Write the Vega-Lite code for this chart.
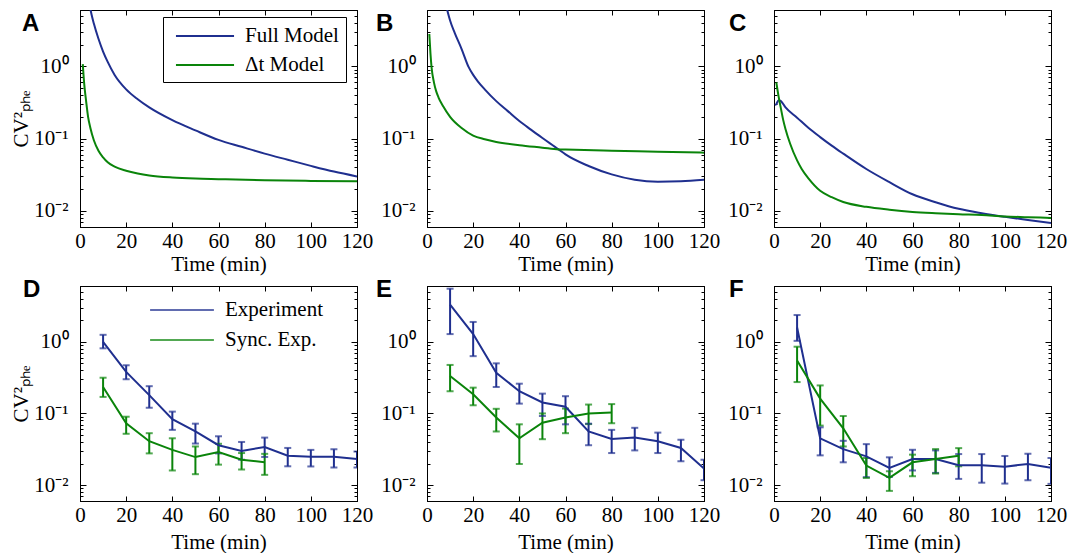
{
"$schema": "https://vega.github.io/schema/vega-lite/v6.json",
"padding": {"left": 10, "top": 4, "right": 0, "bottom": 0},
"bounds": "flush",
"columns": 3,
"spacing": {"row": 59, "column": 70},
"resolve": {"scale": {"color": "independent"}, "legend": {"color": "independent"}},
"config": {
  "view": {"stroke": "black", "strokeWidth": 1},
  "axis": {"grid": false, "domainColor": "black", "domainWidth": 1, "tickColor": "black", "tickWidth": 1, "labelFont": "Liberation Serif", "labelFontSize": 21, "labelColor": "black", "titleFont": "Liberation Serif", "titleFontSize": 21, "titleFontWeight": "normal", "titleColor": "black", "labelOverlap": false, "labelFlush": false},
  "legend": {"labelFont": "Liberation Serif", "labelFontSize": 21, "labelColor": "black"},
  "title": {"font": "Liberation Sans", "fontSize": 24, "fontWeight": "bold", "color": "black", "anchor": "start", "frame": "group", "offset": 0, "baseline": "alphabetic"}
},
"data": {"values": [
{"p":"A","s":"Full Model","t":4,"v":7.5},{"p":"A","s":"Full Model","t":5,"v":5.2},{"p":"A","s":"Full Model","t":6,"v":3.9},{"p":"A","s":"Full Model","t":8,"v":2.4},{"p":"A","s":"Full Model","t":10,"v":1.6},{"p":"A","s":"Full Model","t":12,"v":1.15},{"p":"A","s":"Full Model","t":15,"v":0.76},{"p":"A","s":"Full Model","t":20,"v":0.48},{"p":"A","s":"Full Model","t":25,"v":0.35},{"p":"A","s":"Full Model","t":30,"v":0.27},{"p":"A","s":"Full Model","t":40,"v":0.18},{"p":"A","s":"Full Model","t":50,"v":0.13},{"p":"A","s":"Full Model","t":60,"v":0.096},{"p":"A","s":"Full Model","t":70,"v":0.077},{"p":"A","s":"Full Model","t":80,"v":0.062},{"p":"A","s":"Full Model","t":90,"v":0.051},{"p":"A","s":"Full Model","t":100,"v":0.042},{"p":"A","s":"Full Model","t":110,"v":0.035},{"p":"A","s":"Full Model","t":120,"v":0.030},
{"p":"A","s":"Δt Model","t":1.2,"v":1.07},{"p":"A","s":"Δt Model","t":1.6,"v":0.7},{"p":"A","s":"Δt Model","t":2,"v":0.5},{"p":"A","s":"Δt Model","t":2.6,"v":0.34},{"p":"A","s":"Δt Model","t":3.5,"v":0.2},{"p":"A","s":"Δt Model","t":4.5,"v":0.14},{"p":"A","s":"Δt Model","t":6,"v":0.095},{"p":"A","s":"Δt Model","t":8,"v":0.068},{"p":"A","s":"Δt Model","t":10,"v":0.055},{"p":"A","s":"Δt Model","t":12,"v":0.047},{"p":"A","s":"Δt Model","t":15,"v":0.041},{"p":"A","s":"Δt Model","t":20,"v":0.036},{"p":"A","s":"Δt Model","t":25,"v":0.033},{"p":"A","s":"Δt Model","t":30,"v":0.031},{"p":"A","s":"Δt Model","t":40,"v":0.029},{"p":"A","s":"Δt Model","t":50,"v":0.028},{"p":"A","s":"Δt Model","t":60,"v":0.0275},{"p":"A","s":"Δt Model","t":80,"v":0.0266},{"p":"A","s":"Δt Model","t":100,"v":0.026},{"p":"A","s":"Δt Model","t":120,"v":0.0257},
{"p":"B","s":"Full Model","t":8.5,"v":6.5},{"p":"B","s":"Full Model","t":9,"v":5.6},{"p":"B","s":"Full Model","t":10,"v":4.3},{"p":"B","s":"Full Model","t":12,"v":2.9},{"p":"B","s":"Full Model","t":15,"v":1.73},{"p":"B","s":"Full Model","t":18,"v":0.98},{"p":"B","s":"Full Model","t":20,"v":0.76},{"p":"B","s":"Full Model","t":22,"v":0.62},{"p":"B","s":"Full Model","t":25,"v":0.48},{"p":"B","s":"Full Model","t":30,"v":0.33},{"p":"B","s":"Full Model","t":35,"v":0.24},{"p":"B","s":"Full Model","t":40,"v":0.175},{"p":"B","s":"Full Model","t":45,"v":0.133},{"p":"B","s":"Full Model","t":50,"v":0.102},{"p":"B","s":"Full Model","t":57,"v":0.071},{"p":"B","s":"Full Model","t":60,"v":0.0605},{"p":"B","s":"Full Model","t":70,"v":0.0418},{"p":"B","s":"Full Model","t":80,"v":0.032},{"p":"B","s":"Full Model","t":90,"v":0.027},{"p":"B","s":"Full Model","t":100,"v":0.0254},{"p":"B","s":"Full Model","t":110,"v":0.0257},{"p":"B","s":"Full Model","t":120,"v":0.027},
{"p":"B","s":"Δt Model","t":1,"v":2.8},{"p":"B","s":"Δt Model","t":1.5,"v":1.5},{"p":"B","s":"Δt Model","t":2,"v":0.95},{"p":"B","s":"Δt Model","t":3,"v":0.6},{"p":"B","s":"Δt Model","t":4,"v":0.45},{"p":"B","s":"Δt Model","t":5,"v":0.37},{"p":"B","s":"Δt Model","t":7,"v":0.28},{"p":"B","s":"Δt Model","t":10,"v":0.2},{"p":"B","s":"Δt Model","t":15,"v":0.14},{"p":"B","s":"Δt Model","t":20,"v":0.11},{"p":"B","s":"Δt Model","t":25,"v":0.098},{"p":"B","s":"Δt Model","t":30,"v":0.09},{"p":"B","s":"Δt Model","t":40,"v":0.081},{"p":"B","s":"Δt Model","t":50,"v":0.075},{"p":"B","s":"Δt Model","t":57,"v":0.071},{"p":"B","s":"Δt Model","t":60,"v":0.0705},{"p":"B","s":"Δt Model","t":80,"v":0.068},{"p":"B","s":"Δt Model","t":100,"v":0.066},{"p":"B","s":"Δt Model","t":120,"v":0.064},
{"p":"C","s":"Full Model","t":0.5,"v":0.29},{"p":"C","s":"Full Model","t":1,"v":0.3},{"p":"C","s":"Full Model","t":2,"v":0.34},{"p":"C","s":"Full Model","t":3,"v":0.33},{"p":"C","s":"Full Model","t":5,"v":0.27},{"p":"C","s":"Full Model","t":10,"v":0.195},{"p":"C","s":"Full Model","t":15,"v":0.14},{"p":"C","s":"Full Model","t":20,"v":0.105},{"p":"C","s":"Full Model","t":25,"v":0.08},{"p":"C","s":"Full Model","t":30,"v":0.062},{"p":"C","s":"Full Model","t":40,"v":0.038},{"p":"C","s":"Full Model","t":50,"v":0.025},{"p":"C","s":"Full Model","t":60,"v":0.017},{"p":"C","s":"Full Model","t":70,"v":0.0132},{"p":"C","s":"Full Model","t":80,"v":0.0107},{"p":"C","s":"Full Model","t":90,"v":0.0093},{"p":"C","s":"Full Model","t":100,"v":0.0083},{"p":"C","s":"Full Model","t":110,"v":0.0075},{"p":"C","s":"Full Model","t":120,"v":0.0068},
{"p":"C","s":"Δt Model","t":1,"v":0.6},{"p":"C","s":"Δt Model","t":2,"v":0.38},{"p":"C","s":"Δt Model","t":3,"v":0.26},{"p":"C","s":"Δt Model","t":4,"v":0.18},{"p":"C","s":"Δt Model","t":5,"v":0.135},{"p":"C","s":"Δt Model","t":7,"v":0.085},{"p":"C","s":"Δt Model","t":10,"v":0.05},{"p":"C","s":"Δt Model","t":12,"v":0.038},{"p":"C","s":"Δt Model","t":15,"v":0.028},{"p":"C","s":"Δt Model","t":20,"v":0.019},{"p":"C","s":"Δt Model","t":25,"v":0.0155},{"p":"C","s":"Δt Model","t":30,"v":0.0133},{"p":"C","s":"Δt Model","t":40,"v":0.0114},{"p":"C","s":"Δt Model","t":50,"v":0.0104},{"p":"C","s":"Δt Model","t":60,"v":0.0097},{"p":"C","s":"Δt Model","t":70,"v":0.0093},{"p":"C","s":"Δt Model","t":80,"v":0.009},{"p":"C","s":"Δt Model","t":90,"v":0.0088},{"p":"C","s":"Δt Model","t":100,"v":0.0084},{"p":"C","s":"Δt Model","t":110,"v":0.0082},{"p":"C","s":"Δt Model","t":120,"v":0.008},
{"p":"D","s":"Experiment","t":10,"v":1.0,"lo":0.81,"hi":1.25},{"p":"D","s":"Experiment","t":20,"v":0.38,"lo":0.30,"hi":0.47},{"p":"D","s":"Experiment","t":30,"v":0.18,"lo":0.12,"hi":0.24},{"p":"D","s":"Experiment","t":40,"v":0.083,"lo":0.059,"hi":0.106},{"p":"D","s":"Experiment","t":50,"v":0.056,"lo":0.038,"hi":0.072},{"p":"D","s":"Experiment","t":60,"v":0.036,"lo":0.0277,"hi":0.048},{"p":"D","s":"Experiment","t":70,"v":0.030,"lo":0.0226,"hi":0.040},{"p":"D","s":"Experiment","t":80,"v":0.034,"lo":0.0247,"hi":0.046},{"p":"D","s":"Experiment","t":90,"v":0.0257,"lo":0.0183,"hi":0.033},{"p":"D","s":"Experiment","t":100,"v":0.0249,"lo":0.0182,"hi":0.031},{"p":"D","s":"Experiment","t":110,"v":0.0249,"lo":0.0176,"hi":0.0316},{"p":"D","s":"Experiment","t":120,"v":0.0231,"lo":0.0176,"hi":0.0294},
{"p":"D","s":"Sync. Exp.","t":10,"v":0.234,"lo":0.17,"hi":0.315},{"p":"D","s":"Sync. Exp.","t":20,"v":0.073,"lo":0.052,"hi":0.090},{"p":"D","s":"Sync. Exp.","t":30,"v":0.041,"lo":0.0277,"hi":0.053},{"p":"D","s":"Sync. Exp.","t":40,"v":0.031,"lo":0.016,"hi":0.045},{"p":"D","s":"Sync. Exp.","t":50,"v":0.0246,"lo":0.0142,"hi":0.0346},{"p":"D","s":"Sync. Exp.","t":60,"v":0.0289,"lo":0.0193,"hi":0.0377},{"p":"D","s":"Sync. Exp.","t":70,"v":0.0226,"lo":0.0165,"hi":0.028},{"p":"D","s":"Sync. Exp.","t":80,"v":0.0208,"lo":0.0139,"hi":0.0273},
{"p":"E","s":"Experiment","t":10,"v":3.3,"lo":1.28,"hi":5.5},{"p":"E","s":"Experiment","t":20,"v":1.28,"lo":0.63,"hi":1.89},{"p":"E","s":"Experiment","t":30,"v":0.37,"lo":0.234,"hi":0.50},{"p":"E","s":"Experiment","t":40,"v":0.204,"lo":0.137,"hi":0.26},{"p":"E","s":"Experiment","t":50,"v":0.142,"lo":0.092,"hi":0.189},{"p":"E","s":"Experiment","t":60,"v":0.124,"lo":0.0705,"hi":0.174},{"p":"E","s":"Experiment","t":70,"v":0.056,"lo":0.036,"hi":0.072},{"p":"E","s":"Experiment","t":80,"v":0.044,"lo":0.028,"hi":0.059},{"p":"E","s":"Experiment","t":90,"v":0.046,"lo":0.0305,"hi":0.063},{"p":"E","s":"Experiment","t":100,"v":0.041,"lo":0.028,"hi":0.054},{"p":"E","s":"Experiment","t":110,"v":0.033,"lo":0.0215,"hi":0.043},{"p":"E","s":"Experiment","t":120,"v":0.017,"lo":0.0117,"hi":0.0226},
{"p":"E","s":"Sync. Exp.","t":10,"v":0.332,"lo":0.204,"hi":0.475},{"p":"E","s":"Sync. Exp.","t":20,"v":0.185,"lo":0.13,"hi":0.229},{"p":"E","s":"Sync. Exp.","t":30,"v":0.088,"lo":0.056,"hi":0.116},{"p":"E","s":"Sync. Exp.","t":40,"v":0.045,"lo":0.0197,"hi":0.0705},{"p":"E","s":"Sync. Exp.","t":50,"v":0.0743,"lo":0.0437,"hi":0.1},{"p":"E","s":"Sync. Exp.","t":60,"v":0.088,"lo":0.053,"hi":0.117},{"p":"E","s":"Sync. Exp.","t":70,"v":0.1,"lo":0.071,"hi":0.133},{"p":"E","s":"Sync. Exp.","t":80,"v":0.103,"lo":0.073,"hi":0.135},
{"p":"F","s":"Experiment","t":10,"v":1.58,"lo":1.03,"hi":2.36},{"p":"F","s":"Experiment","t":20,"v":0.045,"lo":0.026,"hi":0.064},{"p":"F","s":"Experiment","t":30,"v":0.0318,"lo":0.0208,"hi":0.0415},{"p":"F","s":"Experiment","t":40,"v":0.0252,"lo":0.0129,"hi":0.0373},{"p":"F","s":"Experiment","t":50,"v":0.0174,"lo":0.013,"hi":0.0244},{"p":"F","s":"Experiment","t":60,"v":0.0231,"lo":0.016,"hi":0.0311},{"p":"F","s":"Experiment","t":70,"v":0.0231,"lo":0.0148,"hi":0.0305},{"p":"F","s":"Experiment","t":80,"v":0.0189,"lo":0.0122,"hi":0.0271},{"p":"F","s":"Experiment","t":90,"v":0.0189,"lo":0.0108,"hi":0.0271},{"p":"F","s":"Experiment","t":100,"v":0.0181,"lo":0.0105,"hi":0.0255},{"p":"F","s":"Experiment","t":110,"v":0.0197,"lo":0.0117,"hi":0.0274},{"p":"F","s":"Experiment","t":120,"v":0.0174,"lo":0.0104,"hi":0.0239},
{"p":"F","s":"Sync. Exp.","t":10,"v":0.546,"lo":0.274,"hi":0.853},{"p":"F","s":"Sync. Exp.","t":20,"v":0.161,"lo":0.0676,"hi":0.246},{"p":"F","s":"Sync. Exp.","t":30,"v":0.062,"lo":0.0346,"hi":0.092},{"p":"F","s":"Sync. Exp.","t":40,"v":0.0187,"lo":0.0126,"hi":0.0239},{"p":"F","s":"Sync. Exp.","t":50,"v":0.0126,"lo":0.0083,"hi":0.0156},{"p":"F","s":"Sync. Exp.","t":60,"v":0.0208,"lo":0.0133,"hi":0.0266},{"p":"F","s":"Sync. Exp.","t":70,"v":0.0231,"lo":0.0145,"hi":0.0318},{"p":"F","s":"Sync. Exp.","t":80,"v":0.0257,"lo":0.0183,"hi":0.0328}
]},
"concat": [
 {"width": 277, "height": 217, "title": {"text": "A", "dx": -58, "dy": 35},
  "transform": [{"filter": "datum.p == 'A'"}],
  "layer": [
   {"mark": {"type": "line", "strokeWidth": 2, "clip": true, "interpolate": "monotone"},
    "encoding": {
     "x": {"field": "t", "type": "quantitative", "scale": {"domain": [0, 120], "nice": false, "zero": false}, "axis": {"values": [0,20,40,60,80,100,120], "title": "Time (min)", "tickSize": -5, "labelPadding": 8, "titlePadding": 2}},
     "y": {"field": "v", "type": "quantitative", "scale": {"type": "log", "domain": [0.006, 6], "nice": false}, "axis": {"values": [0.006,0.007,0.008,0.009,0.01,0.02,0.03,0.04,0.05,0.06,0.07,0.08,0.09,0.1,0.2,0.3,0.4,0.5,0.6,0.7,0.8,0.9,1,2,3,4,5], "labelExpr": "datum.value == 1 ? '10⁰' : (datum.value == 0.1 ? '10⁻¹' : (datum.value == 0.01 ? '10⁻²' : ''))", "tickSize": {"condition": {"test": "datum.value == 1 || datum.value == 0.1 || datum.value == 0.01", "value": -6}, "value": -3}, "labelPadding": 18, "title": "CV²ₚₕₑ", "titlePadding": 2}},
     "color": {"field": "s", "type": "nominal", "scale": {"domain": ["Full Model", "Δt Model"], "range": ["#1f2f8f", "#0a840a"]}, "legend": {"title": null, "orient": "none", "legendX": 83, "legendY": 7, "strokeColor": "black", "fillColor": "white", "padding": 7, "symbolType": "M-2.64,0H2.64", "symbolSize": 484, "symbolStrokeWidth": 2, "symbolOffset": 23, "labelOffset": 28, "rowPadding": 7}}
    }},
   {"transform": [{"filter": "datum.v <= 5"}],
    "mark": {"type": "point", "opacity": 0, "size": 4, "clip": true},
    "encoding": {
     "x": {"field": "t", "type": "quantitative", "scale": {"domain": [0, 120], "nice": false, "zero": false}, "axis": {"orient": "top", "values": [0,20,40,60,80,100,120], "labels": false, "title": null, "tickSize": -5}},
     "y": {"field": "v", "type": "quantitative", "scale": {"type": "log", "domain": [0.006, 6], "nice": false}, "axis": {"orient": "right", "values": [0.006,0.007,0.008,0.009,0.01,0.02,0.03,0.04,0.05,0.06,0.07,0.08,0.09,0.1,0.2,0.3,0.4,0.5,0.6,0.7,0.8,0.9,1,2,3,4,5], "labels": false, "title": null, "tickSize": {"condition": {"test": "datum.value == 1 || datum.value == 0.1 || datum.value == 0.01", "value": -6}, "value": -3}}}
    }}
  ],
  "resolve": {"axis": {"x": "independent", "y": "independent"}}
 },
 {"width": 277, "height": 217, "title": {"text": "B", "dx": -51, "dy": 35},
  "transform": [{"filter": "datum.p == 'B'"}],
  "layer": [
   {"mark": {"type": "line", "strokeWidth": 2, "clip": true, "interpolate": "monotone"},
    "encoding": {
     "x": {"field": "t", "type": "quantitative", "scale": {"domain": [0, 120], "nice": false, "zero": false}, "axis": {"values": [0,20,40,60,80,100,120], "title": "Time (min)", "tickSize": -5, "labelPadding": 8, "titlePadding": 2}},
     "y": {"field": "v", "type": "quantitative", "scale": {"type": "log", "domain": [0.006, 6], "nice": false}, "axis": {"values": [0.006,0.007,0.008,0.009,0.01,0.02,0.03,0.04,0.05,0.06,0.07,0.08,0.09,0.1,0.2,0.3,0.4,0.5,0.6,0.7,0.8,0.9,1,2,3,4,5], "labelExpr": "datum.value == 1 ? '10⁰' : (datum.value == 0.1 ? '10⁻¹' : (datum.value == 0.01 ? '10⁻²' : ''))", "tickSize": {"condition": {"test": "datum.value == 1 || datum.value == 0.1 || datum.value == 0.01", "value": -6}, "value": -3}, "labelPadding": 18, "title": null}},
     "color": {"field": "s", "type": "nominal", "scale": {"domain": ["Full Model", "Δt Model"], "range": ["#1f2f8f", "#0a840a"]}, "legend": null}
    }},
   {"transform": [{"filter": "datum.v <= 5"}],
    "mark": {"type": "point", "opacity": 0, "size": 4, "clip": true},
    "encoding": {
     "x": {"field": "t", "type": "quantitative", "scale": {"domain": [0, 120], "nice": false, "zero": false}, "axis": {"orient": "top", "values": [0,20,40,60,80,100,120], "labels": false, "title": null, "tickSize": -5}},
     "y": {"field": "v", "type": "quantitative", "scale": {"type": "log", "domain": [0.006, 6], "nice": false}, "axis": {"orient": "right", "values": [0.006,0.007,0.008,0.009,0.01,0.02,0.03,0.04,0.05,0.06,0.07,0.08,0.09,0.1,0.2,0.3,0.4,0.5,0.6,0.7,0.8,0.9,1,2,3,4,5], "labels": false, "title": null, "tickSize": {"condition": {"test": "datum.value == 1 || datum.value == 0.1 || datum.value == 0.01", "value": -6}, "value": -3}}}
    }}
  ],
  "resolve": {"axis": {"x": "independent", "y": "independent"}}
 },
 {"width": 277, "height": 217, "title": {"text": "C", "dx": -45, "dy": 35},
  "transform": [{"filter": "datum.p == 'C'"}],
  "layer": [
   {"mark": {"type": "line", "strokeWidth": 2, "clip": true, "interpolate": "monotone"},
    "encoding": {
     "x": {"field": "t", "type": "quantitative", "scale": {"domain": [0, 120], "nice": false, "zero": false}, "axis": {"values": [0,20,40,60,80,100,120], "title": "Time (min)", "tickSize": -5, "labelPadding": 8, "titlePadding": 2}},
     "y": {"field": "v", "type": "quantitative", "scale": {"type": "log", "domain": [0.006, 6], "nice": false}, "axis": {"values": [0.006,0.007,0.008,0.009,0.01,0.02,0.03,0.04,0.05,0.06,0.07,0.08,0.09,0.1,0.2,0.3,0.4,0.5,0.6,0.7,0.8,0.9,1,2,3,4,5], "labelExpr": "datum.value == 1 ? '10⁰' : (datum.value == 0.1 ? '10⁻¹' : (datum.value == 0.01 ? '10⁻²' : ''))", "tickSize": {"condition": {"test": "datum.value == 1 || datum.value == 0.1 || datum.value == 0.01", "value": -6}, "value": -3}, "labelPadding": 18, "title": null}},
     "color": {"field": "s", "type": "nominal", "scale": {"domain": ["Full Model", "Δt Model"], "range": ["#1f2f8f", "#0a840a"]}, "legend": null}
    }},
   {"transform": [{"filter": "datum.v <= 5"}],
    "mark": {"type": "point", "opacity": 0, "size": 4, "clip": true},
    "encoding": {
     "x": {"field": "t", "type": "quantitative", "scale": {"domain": [0, 120], "nice": false, "zero": false}, "axis": {"orient": "top", "values": [0,20,40,60,80,100,120], "labels": false, "title": null, "tickSize": -5}},
     "y": {"field": "v", "type": "quantitative", "scale": {"type": "log", "domain": [0.006, 6], "nice": false}, "axis": {"orient": "right", "values": [0.006,0.007,0.008,0.009,0.01,0.02,0.03,0.04,0.05,0.06,0.07,0.08,0.09,0.1,0.2,0.3,0.4,0.5,0.6,0.7,0.8,0.9,1,2,3,4,5], "labels": false, "title": null, "tickSize": {"condition": {"test": "datum.value == 1 || datum.value == 0.1 || datum.value == 0.01", "value": -6}, "value": -3}}}
    }}
  ],
  "resolve": {"axis": {"x": "independent", "y": "independent"}}
 },
 {"width": 277, "height": 215, "title": {"text": "D", "dx": -57, "dy": 25},
  "transform": [{"filter": "datum.p == 'D'"}],
  "layer": [
   {"mark": {"type": "rule", "strokeWidth": 2, "clip": true},
    "encoding": {
     "x": {"field": "t", "type": "quantitative", "scale": {"domain": [0, 120], "nice": false, "zero": false}, "axis": null},
     "y": {"field": "lo", "type": "quantitative", "scale": {"type": "log", "domain": [0.006, 6], "nice": false}, "axis": null},
     "y2": {"field": "hi"},
     "color": {"field": "s", "type": "nominal", "scale": {"domain": ["Experiment", "Sync. Exp."], "range": ["#1f2f8f", "#0a840a"]}, "legend": {"title": null, "orient": "none", "legendX": 62, "legendY": 5, "padding": 7, "symbolType": "M-2.9,0H2.9", "symbolSize": 484, "symbolStrokeWidth": 2, "symbolOffset": 21, "labelOffset": 31, "rowPadding": 8}}
    }},
   {"mark": {"type": "tick", "orient": "horizontal", "size": 7, "thickness": 2, "clip": true},
    "encoding": {
     "x": {"field": "t", "type": "quantitative", "scale": {"domain": [0, 120], "nice": false, "zero": false}, "axis": null},
     "y": {"field": "lo", "type": "quantitative", "scale": {"type": "log", "domain": [0.006, 6], "nice": false}, "axis": null},
     "color": {"field": "s", "type": "nominal", "scale": {"domain": ["Experiment", "Sync. Exp."], "range": ["#1f2f8f", "#0a840a"]}, "legend": {"title": null, "orient": "none", "legendX": 62, "legendY": 5, "padding": 7, "symbolType": "M-2.9,0H2.9", "symbolSize": 484, "symbolStrokeWidth": 2, "symbolOffset": 21, "labelOffset": 31, "rowPadding": 8}}
    }},
   {"mark": {"type": "tick", "orient": "horizontal", "size": 7, "thickness": 2, "clip": true},
    "encoding": {
     "x": {"field": "t", "type": "quantitative", "scale": {"domain": [0, 120], "nice": false, "zero": false}, "axis": null},
     "y": {"field": "hi", "type": "quantitative", "scale": {"type": "log", "domain": [0.006, 6], "nice": false}, "axis": null},
     "color": {"field": "s", "type": "nominal", "scale": {"domain": ["Experiment", "Sync. Exp."], "range": ["#1f2f8f", "#0a840a"]}, "legend": {"title": null, "orient": "none", "legendX": 62, "legendY": 5, "padding": 7, "symbolType": "M-2.9,0H2.9", "symbolSize": 484, "symbolStrokeWidth": 2, "symbolOffset": 21, "labelOffset": 31, "rowPadding": 8}}
    }},
   {"mark": {"type": "line", "strokeWidth": 2, "clip": true},
    "encoding": {
     "x": {"field": "t", "type": "quantitative", "scale": {"domain": [0, 120], "nice": false, "zero": false}, "axis": {"values": [0,20,40,60,80,100,120], "title": "Time (min)", "tickSize": -5, "labelPadding": 8, "titlePadding": 6}},
     "y": {"field": "v", "type": "quantitative", "scale": {"type": "log", "domain": [0.006, 6], "nice": false}, "axis": {"values": [0.006,0.007,0.008,0.009,0.01,0.02,0.03,0.04,0.05,0.06,0.07,0.08,0.09,0.1,0.2,0.3,0.4,0.5,0.6,0.7,0.8,0.9,1,2,3,4,5], "labelExpr": "datum.value == 1 ? '10⁰' : (datum.value == 0.1 ? '10⁻¹' : (datum.value == 0.01 ? '10⁻²' : ''))", "tickSize": {"condition": {"test": "datum.value == 1 || datum.value == 0.1 || datum.value == 0.01", "value": -6}, "value": -3}, "labelPadding": 18, "title": "CV²ₚₕₑ", "titlePadding": 2}},
     "color": {"field": "s", "type": "nominal", "scale": {"domain": ["Experiment", "Sync. Exp."], "range": ["#1f2f8f", "#0a840a"]}, "legend": {"title": null, "orient": "none", "legendX": 62, "legendY": 5, "padding": 7, "symbolType": "M-2.9,0H2.9", "symbolSize": 484, "symbolStrokeWidth": 2, "symbolOffset": 21, "labelOffset": 31, "rowPadding": 8}}
    }},
   {"transform": [{"filter": "datum.v <= 5"}],
    "mark": {"type": "point", "opacity": 0, "size": 4, "clip": true},
    "encoding": {
     "x": {"field": "t", "type": "quantitative", "scale": {"domain": [0, 120], "nice": false, "zero": false}, "axis": {"orient": "top", "values": [0,20,40,60,80,100,120], "labels": false, "title": null, "tickSize": -5}},
     "y": {"field": "v", "type": "quantitative", "scale": {"type": "log", "domain": [0.006, 6], "nice": false}, "axis": {"orient": "right", "values": [0.006,0.007,0.008,0.009,0.01,0.02,0.03,0.04,0.05,0.06,0.07,0.08,0.09,0.1,0.2,0.3,0.4,0.5,0.6,0.7,0.8,0.9,1,2,3,4,5], "labels": false, "title": null, "tickSize": {"condition": {"test": "datum.value == 1 || datum.value == 0.1 || datum.value == 0.01", "value": -6}, "value": -3}}}
    }}
  ],
  "resolve": {"axis": {"x": "independent", "y": "independent"}}
 },
 {"width": 277, "height": 215, "title": {"text": "E", "dx": -51, "dy": 25},
  "transform": [{"filter": "datum.p == 'E'"}],
  "layer": [
   {"mark": {"type": "rule", "strokeWidth": 2, "clip": true},
    "encoding": {
     "x": {"field": "t", "type": "quantitative", "scale": {"domain": [0, 120], "nice": false, "zero": false}, "axis": null},
     "y": {"field": "lo", "type": "quantitative", "scale": {"type": "log", "domain": [0.006, 6], "nice": false}, "axis": null},
     "y2": {"field": "hi"},
     "color": {"field": "s", "type": "nominal", "scale": {"domain": ["Experiment", "Sync. Exp."], "range": ["#1f2f8f", "#0a840a"]}, "legend": null}
    }},
   {"mark": {"type": "tick", "orient": "horizontal", "size": 7, "thickness": 2, "clip": true},
    "encoding": {
     "x": {"field": "t", "type": "quantitative", "scale": {"domain": [0, 120], "nice": false, "zero": false}, "axis": null},
     "y": {"field": "lo", "type": "quantitative", "scale": {"type": "log", "domain": [0.006, 6], "nice": false}, "axis": null},
     "color": {"field": "s", "type": "nominal", "scale": {"domain": ["Experiment", "Sync. Exp."], "range": ["#1f2f8f", "#0a840a"]}, "legend": null}
    }},
   {"mark": {"type": "tick", "orient": "horizontal", "size": 7, "thickness": 2, "clip": true},
    "encoding": {
     "x": {"field": "t", "type": "quantitative", "scale": {"domain": [0, 120], "nice": false, "zero": false}, "axis": null},
     "y": {"field": "hi", "type": "quantitative", "scale": {"type": "log", "domain": [0.006, 6], "nice": false}, "axis": null},
     "color": {"field": "s", "type": "nominal", "scale": {"domain": ["Experiment", "Sync. Exp."], "range": ["#1f2f8f", "#0a840a"]}, "legend": null}
    }},
   {"mark": {"type": "line", "strokeWidth": 2, "clip": true},
    "encoding": {
     "x": {"field": "t", "type": "quantitative", "scale": {"domain": [0, 120], "nice": false, "zero": false}, "axis": {"values": [0,20,40,60,80,100,120], "title": "Time (min)", "tickSize": -5, "labelPadding": 8, "titlePadding": 6}},
     "y": {"field": "v", "type": "quantitative", "scale": {"type": "log", "domain": [0.006, 6], "nice": false}, "axis": {"values": [0.006,0.007,0.008,0.009,0.01,0.02,0.03,0.04,0.05,0.06,0.07,0.08,0.09,0.1,0.2,0.3,0.4,0.5,0.6,0.7,0.8,0.9,1,2,3,4,5], "labelExpr": "datum.value == 1 ? '10⁰' : (datum.value == 0.1 ? '10⁻¹' : (datum.value == 0.01 ? '10⁻²' : ''))", "tickSize": {"condition": {"test": "datum.value == 1 || datum.value == 0.1 || datum.value == 0.01", "value": -6}, "value": -3}, "labelPadding": 18, "title": null}},
     "color": {"field": "s", "type": "nominal", "scale": {"domain": ["Experiment", "Sync. Exp."], "range": ["#1f2f8f", "#0a840a"]}, "legend": null}
    }},
   {"transform": [{"filter": "datum.v <= 5"}],
    "mark": {"type": "point", "opacity": 0, "size": 4, "clip": true},
    "encoding": {
     "x": {"field": "t", "type": "quantitative", "scale": {"domain": [0, 120], "nice": false, "zero": false}, "axis": {"orient": "top", "values": [0,20,40,60,80,100,120], "labels": false, "title": null, "tickSize": -5}},
     "y": {"field": "v", "type": "quantitative", "scale": {"type": "log", "domain": [0.006, 6], "nice": false}, "axis": {"orient": "right", "values": [0.006,0.007,0.008,0.009,0.01,0.02,0.03,0.04,0.05,0.06,0.07,0.08,0.09,0.1,0.2,0.3,0.4,0.5,0.6,0.7,0.8,0.9,1,2,3,4,5], "labels": false, "title": null, "tickSize": {"condition": {"test": "datum.value == 1 || datum.value == 0.1 || datum.value == 0.01", "value": -6}, "value": -3}}}
    }}
  ],
  "resolve": {"axis": {"x": "independent", "y": "independent"}}
 },
 {"width": 277, "height": 215, "title": {"text": "F", "dx": -45, "dy": 25},
  "transform": [{"filter": "datum.p == 'F'"}],
  "layer": [
   {"mark": {"type": "rule", "strokeWidth": 2, "clip": true},
    "encoding": {
     "x": {"field": "t", "type": "quantitative", "scale": {"domain": [0, 120], "nice": false, "zero": false}, "axis": null},
     "y": {"field": "lo", "type": "quantitative", "scale": {"type": "log", "domain": [0.006, 6], "nice": false}, "axis": null},
     "y2": {"field": "hi"},
     "color": {"field": "s", "type": "nominal", "scale": {"domain": ["Experiment", "Sync. Exp."], "range": ["#1f2f8f", "#0a840a"]}, "legend": null}
    }},
   {"mark": {"type": "tick", "orient": "horizontal", "size": 7, "thickness": 2, "clip": true},
    "encoding": {
     "x": {"field": "t", "type": "quantitative", "scale": {"domain": [0, 120], "nice": false, "zero": false}, "axis": null},
     "y": {"field": "lo", "type": "quantitative", "scale": {"type": "log", "domain": [0.006, 6], "nice": false}, "axis": null},
     "color": {"field": "s", "type": "nominal", "scale": {"domain": ["Experiment", "Sync. Exp."], "range": ["#1f2f8f", "#0a840a"]}, "legend": null}
    }},
   {"mark": {"type": "tick", "orient": "horizontal", "size": 7, "thickness": 2, "clip": true},
    "encoding": {
     "x": {"field": "t", "type": "quantitative", "scale": {"domain": [0, 120], "nice": false, "zero": false}, "axis": null},
     "y": {"field": "hi", "type": "quantitative", "scale": {"type": "log", "domain": [0.006, 6], "nice": false}, "axis": null},
     "color": {"field": "s", "type": "nominal", "scale": {"domain": ["Experiment", "Sync. Exp."], "range": ["#1f2f8f", "#0a840a"]}, "legend": null}
    }},
   {"mark": {"type": "line", "strokeWidth": 2, "clip": true},
    "encoding": {
     "x": {"field": "t", "type": "quantitative", "scale": {"domain": [0, 120], "nice": false, "zero": false}, "axis": {"values": [0,20,40,60,80,100,120], "title": "Time (min)", "tickSize": -5, "labelPadding": 8, "titlePadding": 6}},
     "y": {"field": "v", "type": "quantitative", "scale": {"type": "log", "domain": [0.006, 6], "nice": false}, "axis": {"values": [0.006,0.007,0.008,0.009,0.01,0.02,0.03,0.04,0.05,0.06,0.07,0.08,0.09,0.1,0.2,0.3,0.4,0.5,0.6,0.7,0.8,0.9,1,2,3,4,5], "labelExpr": "datum.value == 1 ? '10⁰' : (datum.value == 0.1 ? '10⁻¹' : (datum.value == 0.01 ? '10⁻²' : ''))", "tickSize": {"condition": {"test": "datum.value == 1 || datum.value == 0.1 || datum.value == 0.01", "value": -6}, "value": -3}, "labelPadding": 18, "title": null}},
     "color": {"field": "s", "type": "nominal", "scale": {"domain": ["Experiment", "Sync. Exp."], "range": ["#1f2f8f", "#0a840a"]}, "legend": null}
    }},
   {"transform": [{"filter": "datum.v <= 5"}],
    "mark": {"type": "point", "opacity": 0, "size": 4, "clip": true},
    "encoding": {
     "x": {"field": "t", "type": "quantitative", "scale": {"domain": [0, 120], "nice": false, "zero": false}, "axis": {"orient": "top", "values": [0,20,40,60,80,100,120], "labels": false, "title": null, "tickSize": -5}},
     "y": {"field": "v", "type": "quantitative", "scale": {"type": "log", "domain": [0.006, 6], "nice": false}, "axis": {"orient": "right", "values": [0.006,0.007,0.008,0.009,0.01,0.02,0.03,0.04,0.05,0.06,0.07,0.08,0.09,0.1,0.2,0.3,0.4,0.5,0.6,0.7,0.8,0.9,1,2,3,4,5], "labels": false, "title": null, "tickSize": {"condition": {"test": "datum.value == 1 || datum.value == 0.1 || datum.value == 0.01", "value": -6}, "value": -3}}}
    }}
  ],
  "resolve": {"axis": {"x": "independent", "y": "independent"}}
 }
]
}
